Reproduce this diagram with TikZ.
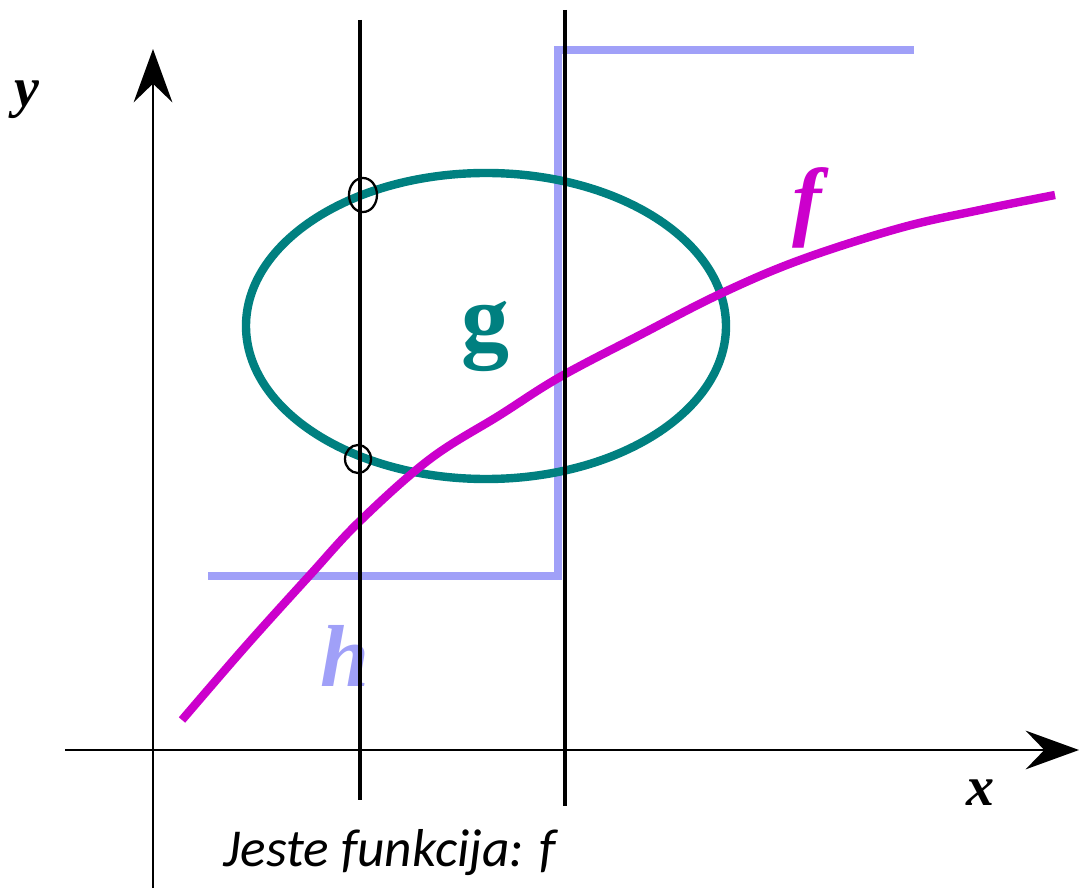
\documentclass[tikz,border=0pt]{standalone}
\usepackage{fontspec}
\setmainfont{Liberation Serif}
\newfontfamily\calib{Carlito}
\usetikzlibrary{arrows.meta}
\definecolor{tealc}{RGB}{0,128,128}
\definecolor{magc}{RGB}{204,0,204}
\definecolor{lblue}{RGB}{160,160,248}
\tikzset{
  axis/.style={line width=1.8pt, -{Stealth[length=40pt,width=29pt,inset=14pt]}},
  vline/.style={line width=3.4pt, black},
  ring/.style={draw=black, line width=1.7pt},
  thick curve/.style={line width=6.3pt},
  lbl/.style={font=\bfseries\itshape\fontsize{42}{42}\selectfont, inner sep=0pt},
}
\begin{document}
\begin{tikzpicture}[x=0.75pt,y=-0.75pt]
\useasboundingbox (0,0) rectangle (1079,891);
% axes
\coordinate (yb) at (153,888);
\coordinate (yt) at (153,49);
\coordinate (xb) at (65,750);
\coordinate (xt) at (1079,750);
\draw[axis] (yb) -- (yt);
\draw[axis] (xb) -- (xt);
\node[lbl] (ylab) at (27,100) {y};
\node[lbl] (xlab) at (980,793) {x};
% step h
\coordinate (h1) at (208,576);
\coordinate (h2) at (558,576);
\coordinate (h3) at (558,50);
\coordinate (h4) at (914,50);
\draw[lblue, thick curve] (h1) -- (h2) -- (h3) -- (h4);
% ellipse g
\draw[tealc, thick curve] (486,326) ellipse [x radius=240, y radius=153];
\node[font=\bfseries\fontsize{72}{72}\selectfont, text=tealc, inner sep=0pt] (glab) at (485,336) {g};
% f
\draw[magc, thick curve] plot[smooth, tension=0.6] coordinates {(182,720) (245,647) (310,575) (360,521) (430,459) (500,415) (560,377) (640,335) (720,294) (800,260) (900,228) (980,210) (1055,195)};
\node[font=\bfseries\itshape\fontsize{66}{66}\selectfont, text=magc, inner sep=0pt] (flab) at (807,208) {f};
\node[font=\bfseries\itshape\fontsize{66}{66}\selectfont, text=lblue, inner sep=0pt] (hlab) at (345,656) {h};
% vertical lines
\coordinate (v1t) at (360,20);
\coordinate (v1b) at (360,800);
\coordinate (v2t) at (565,10);
\coordinate (v2b) at (565,806);
\draw[vline] (v1t) -- (v1b);
\draw[vline] (v2t) -- (v2b);
% rings
\draw[ring] (363,195) ellipse [x radius=14, y radius=17];
\draw[ring] (358,459) ellipse [x radius=13, y radius=14];
% text
\node[font=\calib\itshape\fontsize{40}{40}\selectfont, inner sep=0pt] (txt) at (390,853) {Jeste funkcija: f};
\end{tikzpicture}
\end{document}
